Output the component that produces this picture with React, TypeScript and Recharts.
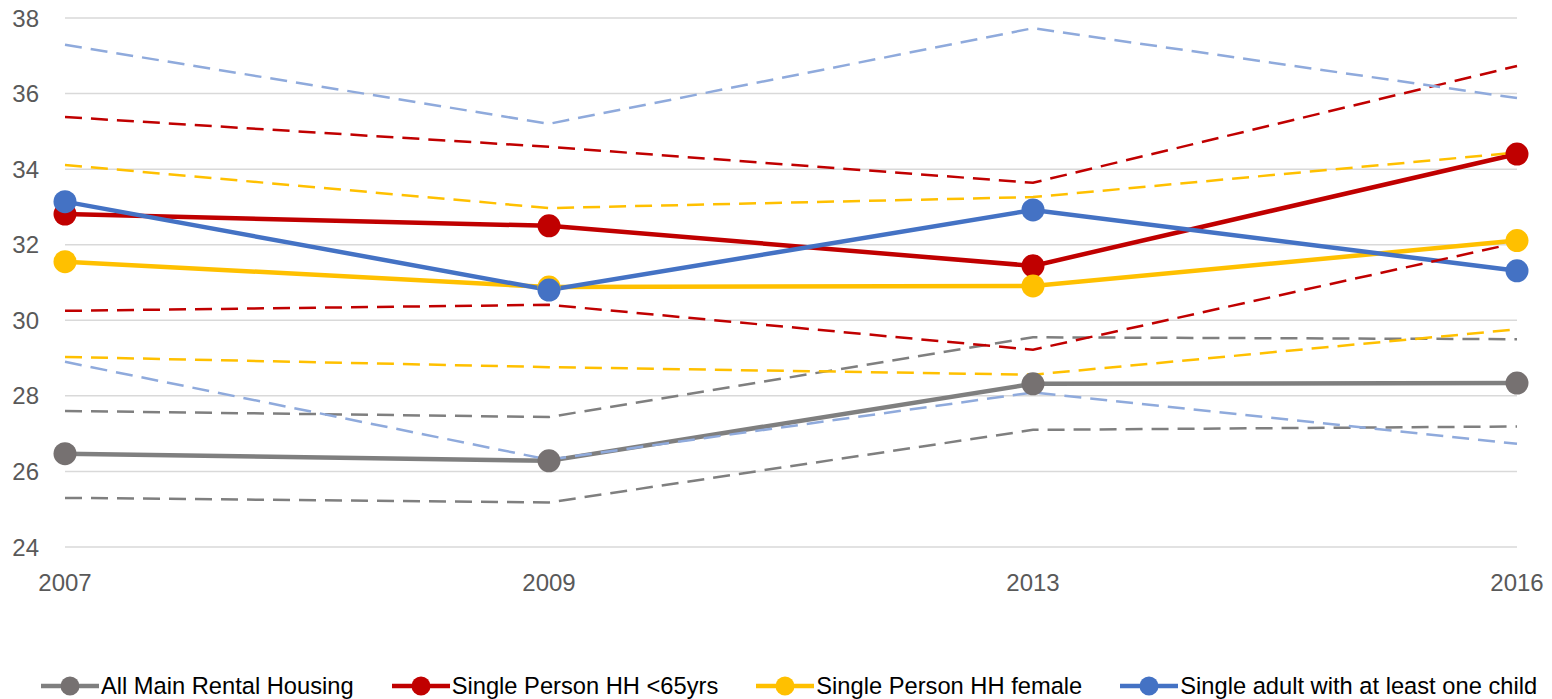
import React from 'react';
import { LineChart, Line, XAxis, YAxis, CartesianGrid, Legend } from 'recharts';

const years = ['2007', '2009', '2013', '2016'];
const yTicks = [24, 26, 28, 30, 32, 34, 36, 38];

const allMain = [26.47, 26.28, 28.32, 28.34];
const allMainUpper = [27.6, 27.44, 29.55, 29.5];
const allMainLower = [25.3, 25.18, 27.1, 27.19];

const under65 = [32.81, 32.5, 31.44, 34.4];
const under65Upper = [35.38, 34.59, 33.64, 36.73];
const under65Lower = [30.25, 30.41, 29.22, 32.05];

const female = [31.55, 30.88, 30.91, 32.11];
const femaleUpper = [34.11, 32.97, 33.26, 34.44];
const femaleLower = [29.03, 28.76, 28.56, 29.76];

const singleAdult = [33.14, 30.8, 32.92, 31.31];
const singleAdultUpper = [37.29, 35.2, 37.73, 35.88];
const singleAdultLower = [28.9, 26.31, 28.09, 26.73];

const seriesNames = [
  'All Main Rental Housing',
  'Single Person HH <65yrs',
  'Single Person HH female',
  'Single adult with at least one child',
];

const data = years.map((year, i) => ({
  year,
  allMain: allMain[i],
  allMainUpper: allMainUpper[i],
  allMainLower: allMainLower[i],
  under65: under65[i],
  under65Upper: under65Upper[i],
  under65Lower: under65Lower[i],
  female: female[i],
  femaleUpper: femaleUpper[i],
  femaleLower: femaleLower[i],
  singleAdult: singleAdult[i],
  singleAdultUpper: singleAdultUpper[i],
  singleAdultLower: singleAdultLower[i],
}));

const GRAY = '#7f7f7f';
const GRAY_MARK = '#767171';
const RED = '#c00000';
const YELLOW = '#ffc000';
const BLUE = '#4472c4';
const LIGHT_BLUE = '#8faadc';
const TEXT = '#595959';
const FONT = 'Liberation Sans, Arial, sans-serif';

const legendItems = [
  { name: seriesNames[0], line: GRAY, mark: GRAY_MARK },
  { name: seriesNames[1], line: RED, mark: RED },
  { name: seriesNames[2], line: YELLOW, mark: YELLOW },
  { name: seriesNames[3], line: BLUE, mark: BLUE },
];

const renderLegend = () => (
  <div
    style={{
      height: 26,
      display: 'flex',
      alignItems: 'center',
      justifyContent: 'center',
      gap: 38,
      paddingLeft: 26,
      fontFamily: FONT,
      fontSize: 23.7,
      color: '#000',
      whiteSpace: 'nowrap',
    }}
  >
    {legendItems.map((it) => (
      <div key={it.name} style={{ display: 'flex', alignItems: 'center' }}>
        <svg width={58} height={22} style={{ marginRight: 2 }}>
          <line x1={0} y1={11} x2={58} y2={11} stroke={it.line} strokeWidth={4.5} />
          <circle cx={29} cy={11} r={9.5} fill={it.mark} />
        </svg>
        <span>{it.name}</span>
      </div>
    ))}
  </div>
);

const solidDot = (c: string) => ({ r: 11.5, fill: c, stroke: c, strokeWidth: 0 });

export default function App() {
  return (
    <div style={{ position: 'absolute', left: 0, top: 0, background: '#fff' }}>
      <LineChart
        width={1552}
        height={699}
        data={data}
        margin={{ top: 18, right: 35, left: 15, bottom: 86 }}
      >
        <CartesianGrid vertical={false} stroke="#d9d9d9" strokeWidth={1.5} />
        <XAxis
          dataKey="year"
          axisLine={false}
          tickLine={false}
          tickSize={0}
          tickMargin={27}
          height={40}
          interval={0}
          tick={{ fontSize: 24, fill: TEXT, fontFamily: FONT }}
        />
        <YAxis
          domain={[24, 38]}
          ticks={yTicks}
          axisLine={false}
          tickLine={false}
          tickSize={0}
          tickMargin={26}
          width={50}
          tick={{ fontSize: 24, fill: TEXT, fontFamily: FONT }}
        />
        <Legend
          verticalAlign="bottom"
          content={renderLegend}
          wrapperStyle={{ bottom: 0, left: 0, width: 1552 }}
        />
        <Line dataKey="allMain" name={seriesNames[0]} stroke={GRAY} strokeWidth={4.5} dot={solidDot(GRAY_MARK)} activeDot={false} isAnimationActive={false} />
        <Line dataKey="under65" name={seriesNames[1]} stroke={RED} strokeWidth={4.5} dot={solidDot(RED)} activeDot={false} isAnimationActive={false} />
        <Line dataKey="female" name={seriesNames[2]} stroke={YELLOW} strokeWidth={4.5} dot={solidDot(YELLOW)} activeDot={false} isAnimationActive={false} />
        <Line dataKey="singleAdult" name={seriesNames[3]} stroke={BLUE} strokeWidth={4.5} dot={solidDot(BLUE)} activeDot={false} isAnimationActive={false} />

        <Line dataKey="allMainUpper" legendType="none" stroke={GRAY} strokeWidth={2.5} strokeDasharray="17 9" dot={false} activeDot={false} isAnimationActive={false} />
        <Line dataKey="allMainLower" legendType="none" stroke={GRAY} strokeWidth={2.5} strokeDasharray="17 9" dot={false} activeDot={false} isAnimationActive={false} />
        <Line dataKey="under65Upper" legendType="none" stroke={RED} strokeWidth={2.5} strokeDasharray="17 9" dot={false} activeDot={false} isAnimationActive={false} />
        <Line dataKey="under65Lower" legendType="none" stroke={RED} strokeWidth={2.5} strokeDasharray="17 9" dot={false} activeDot={false} isAnimationActive={false} />
        <Line dataKey="femaleUpper" legendType="none" stroke={YELLOW} strokeWidth={2.5} strokeDasharray="17 9" dot={false} activeDot={false} isAnimationActive={false} />
        <Line dataKey="femaleLower" legendType="none" stroke={YELLOW} strokeWidth={2.5} strokeDasharray="17 9" dot={false} activeDot={false} isAnimationActive={false} />
        <Line dataKey="singleAdultUpper" legendType="none" stroke={LIGHT_BLUE} strokeWidth={2.5} strokeDasharray="17 9" dot={false} activeDot={false} isAnimationActive={false} />
        <Line dataKey="singleAdultLower" legendType="none" stroke={LIGHT_BLUE} strokeWidth={2.5} strokeDasharray="17 9" dot={false} activeDot={false} isAnimationActive={false} />
      </LineChart>
    </div>
  );
}
